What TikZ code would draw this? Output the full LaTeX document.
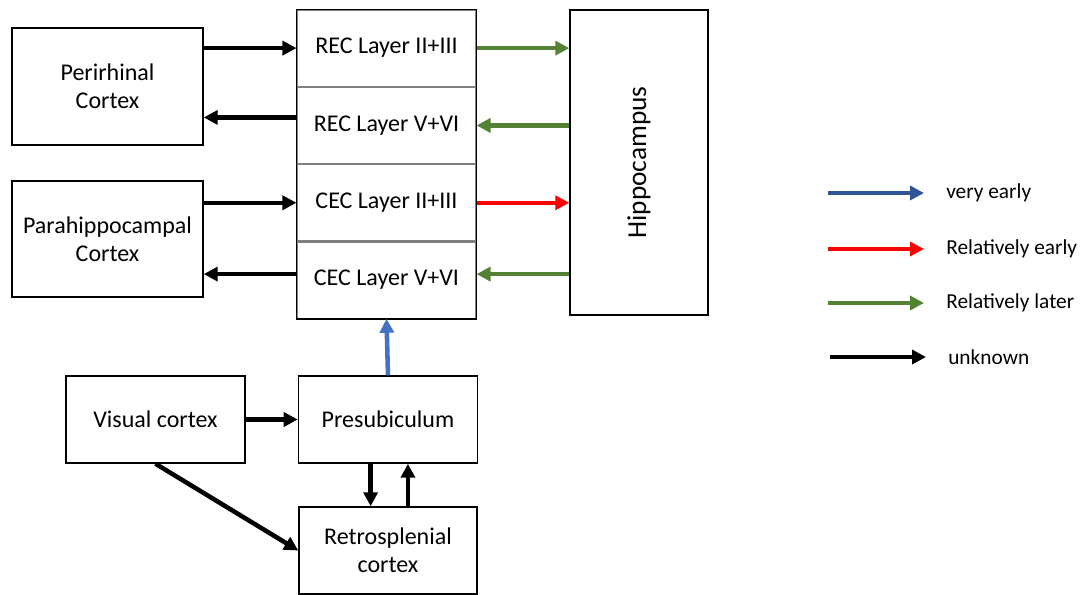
\documentclass[tikz,border=0pt]{standalone}
\usepackage{fontspec}
\setmainfont{Carlito}
\usepackage{graphicx}
\usetikzlibrary{arrows.meta, positioning, calc}
\definecolor{lategreen}{HTML}{548235}
\definecolor{earlyblue}{HTML}{4472C4}
\definecolor{keyblue}{HTML}{2F5597}
\definecolor{earlyred}{HTML}{FF0000}

\begin{document}
\begin{tikzpicture}[
    x = 0.75pt, y = -0.75pt,
    region/.style = {
      rectangle, draw, line width = 1.1pt, align = center,
      inner sep = 0pt, font = \fontsize{18}{21}\selectfont
    },
    layer/.style = {
      rectangle, draw = gray, line width = 0.8pt, inner sep = 0pt,
      minimum width = 134.25pt, minimum height = 57.2pt,
      font = \fontsize{18}{21}\selectfont
    },
    link/.style = {
      line width = 3.4pt, -{Triangle[length = 10.5pt, width = 10.5pt]}
    },
    keytext/.style = {
      anchor = west, inner sep = 0pt, font = \fontsize{16}{19}\selectfont
    },
    ]
\useasboundingbox (0,0) rectangle (1085,594);

% entorhinal layers
\node  [layer]  (rec23)  at  (386.5,48.1)  {REC Layer II+III};
\node  [layer]  (rec56)  [below = 0pt of rec23]  {REC Layer V+VI};
\node  [layer]  (cec23)  [below = 0pt of rec56]  {CEC Layer II+III};
\node  [layer]  (cec56)  [below = 0pt of cec23]  {CEC Layer V+VI};
\draw  [line width = 1.1pt]  (rec23.north west)  rectangle  (cec56.south east);

% cortices
\node  [region, minimum width = 143.25pt, minimum height = 87.75pt]  (perirhinal)  at  (107.5,86.5)  {Perirhinal\\Cortex};
\node  [region, minimum width = 143.25pt, minimum height = 87pt]  (parahipp)  at  (107.5,239)  {Parahippocampal\\Cortex};
\node  [region, minimum width = 103.5pt, minimum height = 228.75pt]  (hippo)  at  (639,162.5)  {\fontsize{20.5}{24}\selectfont\rotatebox{90}{Hippocampus}};
\node  [region, minimum width = 134.25pt, minimum height = 65.25pt]  (visual)  at  (155.5,419.5)  {Visual cortex};
\node  [region, minimum width = 134.25pt, minimum height = 65.25pt]  (presub)  [right = 39pt of visual]  {Presubiculum};
\node  [region, minimum width = 133.5pt, minimum height = 65.25pt]  (retro)  at  (388,550.5)  {Retrosplenial\\cortex};

% connections
\draw  [link]  (perirhinal.east |- rec23)  --  (rec23.west);
\draw  [link]  ([yshift = 6pt]rec56.west)  --  ([yshift = 6pt]perirhinal.east |- rec56);
\draw  [link]  (parahipp.east |- cec23)  --  (cec23.west);
\draw  [link]  ([yshift = 4.5pt]cec56.west)  --  ([yshift = 4.5pt]parahipp.east |- cec56);
\draw  [link, lategreen]  (rec23.east)  --  (rec23.east -| hippo.west);
\draw  [link, lategreen]  (rec56.east -| hippo.west)  --  (rec56.east);
\draw  [link, earlyred]  (cec23.east)  --  (cec23.east -| hippo.west);
\draw  [link, lategreen]  ([yshift = 4.5pt]cec56.east -| hippo.west)  --  ([yshift = 4.5pt]cec56.east);
\draw  [link, earlyblue]  (presub.north)  --  (cec56.south);
\draw  [link]  (visual.east)  --  (presub.west);
\draw  [link]  ([xshift = -13pt]presub.south)  --  ([xshift = -13pt]presub.south |- retro.north);
\draw  [link]  ([xshift = 15pt]presub.south |- retro.north)  --  ([xshift = 15pt]presub.south);
\draw  [link]  (visual.south)  --  (retro.west);

% key
\coordinate  (k1a)  at  (828,193);  \coordinate  (k1b)  at  (924,193);
\coordinate  (k2a)  at  (828,249);  \coordinate  (k2b)  at  (924,249);
\coordinate  (k3a)  at  (828,303);  \coordinate  (k3b)  at  (924,303);
\coordinate  (k4a)  at  (830,357);  \coordinate  (k4b)  at  (926,357);
\draw  [link, keyblue]  (k1a)  --  (k1b);
\draw  [link, earlyred]  (k2a)  --  (k2b);
\draw  [link, lategreen]  (k3a)  --  (k3b);
\draw  [link]  (k4a)  --  (k4b);
\node  [keytext]  (t1)  at  (946,193)  {very early};
\node  [keytext]  (t2)  at  (946,249)  {Relatively early};
\node  [keytext]  (t3)  at  (946,303)  {Relatively later};
\node  [keytext]  (t4)  at  (948,357)  {unknown};
\end{tikzpicture}
\end{document}
